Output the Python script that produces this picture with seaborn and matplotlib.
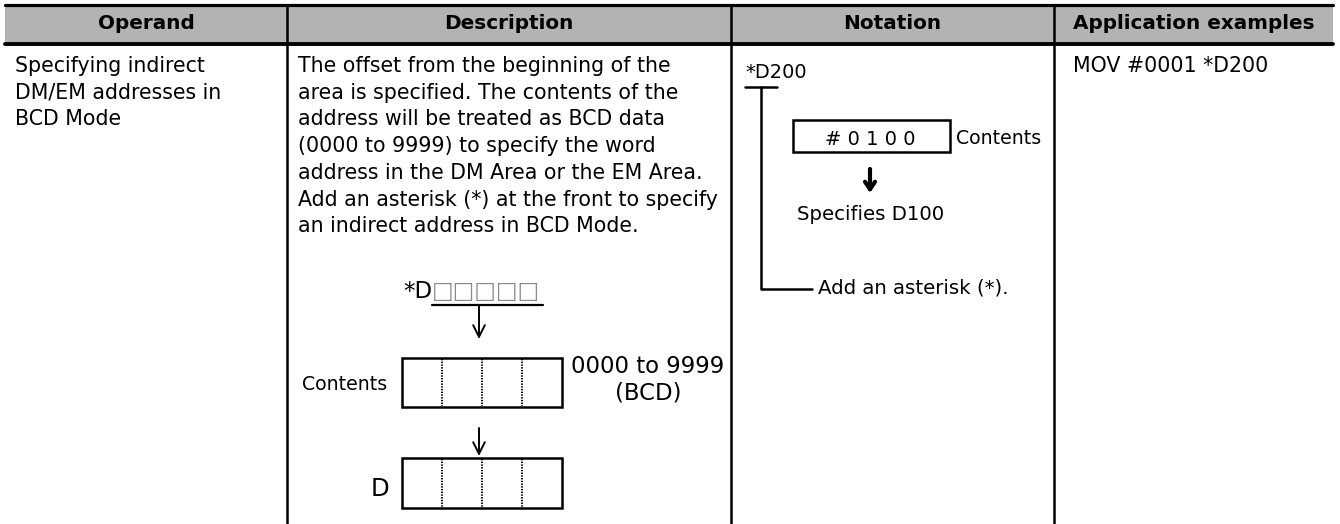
import matplotlib
matplotlib.use("Agg")
import matplotlib.pyplot as plt
import seaborn as sns

# table content
headers = ["Operand", "Description", "Notation", "Application examples"]
operand_lines = ["Specifying indirect", "DM/EM addresses in", "BCD Mode"]
description_lines = [
    "The offset from the beginning of the",
    "area is specified. The contents of the",
    "address will be treated as BCD data",
    "(0000 to 9999) to specify the word",
    "address in the DM Area or the EM Area.",
    "Add an asterisk (*) at the front to specify",
    "an indirect address in BCD Mode.",
]
application_lines = ["MOV #0001 *D200"]

# description diagram
desc_prefix = "*D"
desc_boxes = "\u25a1" * 5
desc_label_contents = "Contents"
desc_range = ["0000 to 9999", "(BCD)"]
desc_label_d = "D"
n_digits = 4

# notation diagram
notation_word = "*D200"
notation_value = "# 0 1 0 0"
notation_contents = "Contents"
notation_result = "Specifies D100"
notation_note = "Add an asterisk (*)."

sns.set_theme(style="white", rc={"text.color": "black"})
plt.rcParams["font.family"] = ["DejaVu Sans"]

W, H = 1340, 524
fig = plt.figure(figsize=(W / 100, H / 100), dpi=100)
ax = fig.add_axes([0, 0, 1, 1])
ax.set_xlim(0, W)
ax.set_ylim(H, 0)
ax.axis("off")

col_edges = [5, 287, 731, 1054, 1333]
head_top, head_bot = 6, 42
line_h = 26.7
body_size = 14.8

# header band and rules
ax.fill_between([col_edges[0], col_edges[-1]], head_top, head_bot, color="#b3b3b3", lw=0)
ax.plot([col_edges[0], col_edges[-1]], [head_top - 1, head_top - 1], color="black", lw=2.3)
ax.plot([col_edges[0], col_edges[-1]], [head_bot + 2, head_bot + 2], color="black", lw=2.8)
for x in col_edges[1:-1]:
    ax.plot([x, x], [head_top, H], color="black", lw=1.8)

for i, h in enumerate(headers):
    cx = (col_edges[i] + col_edges[i + 1]) / 2
    ax.text(cx, 29, h, ha="center", va="baseline", fontsize=14.4, fontweight="bold",
            color="black")

# body text columns
def text_block(x, y0, lines, size=body_size):
    for k, s in enumerate(lines):
        ax.text(x, y0 + k * line_h, s, ha="left", va="baseline", fontsize=size, color="black")

text_block(15, 72, operand_lines)
text_block(298, 72, description_lines)
text_block(1073, 72, application_lines)

# ---- description diagram ----
ax.text(432, 298, desc_prefix, ha="right", va="baseline", fontsize=16.5, color="black")
ax.text(432, 298, desc_boxes, ha="left", va="baseline", fontsize=16.5, color="#8a8a8a")
ax.plot([432, 543], [305, 305], color="black", lw=1.6)
arrow_thin = dict(arrowstyle="->,head_length=0.7,head_width=0.35", color="black", lw=1.4,
                  shrinkA=0, shrinkB=0)
ax.annotate("", xy=(479, 339), xytext=(479, 305), arrowprops=arrow_thin)

box_l, box_r = 402, 562
cell_w = (box_r - box_l) / n_digits
for top, bot in [(358, 407), (458, 508)]:
    ax.add_patch(plt.Rectangle((box_l, top), box_r - box_l, bot - top,
                               fill=False, ec="black", lw=1.8))
    for k in range(1, n_digits):
        xx = box_l + k * cell_w
        ax.plot([xx, xx], [top + 1, bot - 1], color="black", lw=1.4, ls=(0, (0.7, 0.7)))

ax.annotate("", xy=(479, 456), xytext=(479, 428), arrowprops=arrow_thin)

ax.text(387, 390, desc_label_contents, ha="right", va="baseline", fontsize=13.6, color="black")
ax.text(648, 373, desc_range[0], ha="center", va="baseline", fontsize=16.4, color="black")
ax.text(648, 400, desc_range[1], ha="center", va="baseline", fontsize=16.4, color="black")
ax.text(389, 496, desc_label_d, ha="right", va="baseline", fontsize=17.5, color="black")

# ---- notation diagram ----
ax.text(745, 78, notation_word, ha="left", va="baseline", fontsize=14.0, color="black")
ax.plot([745, 777], [87, 87], color="black", lw=1.8)
ax.plot([761, 761, 812], [87, 289, 289], color="black", lw=1.8)
ax.text(818, 294, notation_note, ha="left", va="baseline", fontsize=14.2, color="black")

ax.add_patch(plt.Rectangle((793, 120), 950 - 793, 152 - 120, fill=False, ec="black", lw=1.8))
ax.text(870, 145, notation_value, ha="center", va="baseline", fontsize=14.0, color="black")
ax.text(956, 144, notation_contents, ha="left", va="baseline", fontsize=13.6, color="black")
arrow_bold = dict(arrowstyle="->,head_length=0.45,head_width=0.3", color="black", lw=3.0,
                  shrinkA=0, shrinkB=0)
ax.annotate("", xy=(870, 193), xytext=(870, 169), arrowprops=arrow_bold)
ax.text(797, 220, notation_result, ha="left", va="baseline", fontsize=14.2, color="black")

fig.savefig("out.png", dpi=100, facecolor="white")
